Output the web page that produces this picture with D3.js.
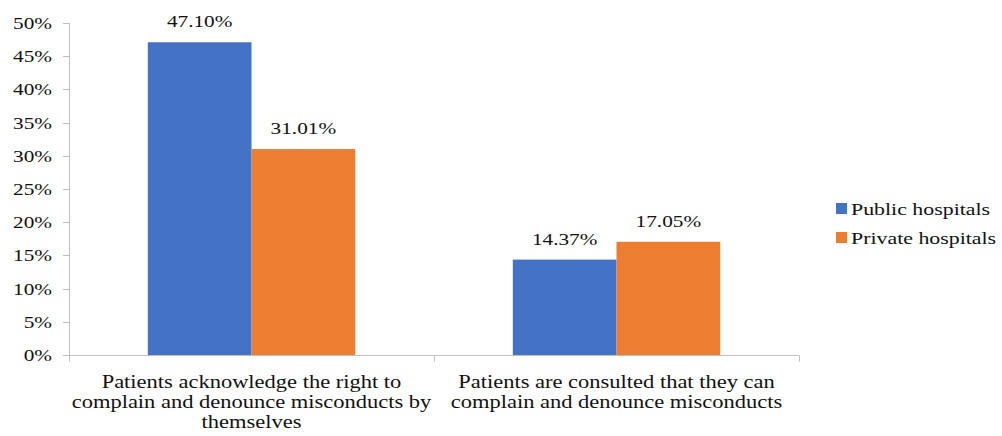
<!DOCTYPE html>
<html>
<head>
<meta charset="utf-8">
<script src="https://cdn.jsdelivr.net/npm/d3@7"></script>
<style>
  html, body { margin: 0; padding: 0; background: #fff; }
  svg { display: block; }
  text { font-family: 'Liberation Serif'; fill: #111; }
</style>
</head>
<body>
<svg id="chart" width="1002" height="436"></svg>
<script>
// Chart data
const categories = [
  ["Patients acknowledge the right to", "complain and denounce misconducts by", "themselves"],
  ["Patients are consulted that they can", "complain and denounce misconducts"]
];
const seriesNames = ["Public hospitals", "Private hospitals"];
const publicValues = [47.10, 14.37];
const privateValues = [31.01, 17.05];
const yTicks = [0, 5, 10, 15, 20, 25, 30, 35, 40, 45, 50];
const colors = ["#4472C4", "#ED7D31"];

const svg = d3.select("#chart");
const margin = { left: 69, right: 203, top: 23, bottom: 81 };
const W = 1002, H = 436;
const sx = 1.25; // horizontal stretch applied to all text

const x0 = d3.scaleBand().domain(d3.range(categories.length))
  .range([margin.left, W - margin.right]).paddingInner(0).paddingOuter(0);
const x1 = d3.scaleBand().domain([0, 1]).range([0, x0.bandwidth()])
  .paddingOuter(0.76).paddingInner(0);
const y = d3.scaleLinear().domain([0, 50]).range([H - margin.bottom, margin.top]);

function stretchedText(g, x, yy, str, size, anchor) {
  return g.append("text")
    .attr("transform", `translate(${x},${yy}) scale(${sx},1)`)
    .attr("text-anchor", anchor)
    .attr("font-size", size)
    .text(str);
}

const axisColor = "#BFBFBF";

// Y axis
const yAxis = svg.append("g");
yAxis.append("line").attr("x1", margin.left + 0.5).attr("x2", margin.left + 0.5)
  .attr("y1", y(50)).attr("y2", y(0)).attr("stroke", axisColor);
yTicks.forEach(t => {
  const yy = Math.round(y(t)) + 0.5;
  yAxis.append("line").attr("x1", margin.left - 6).attr("x2", margin.left)
    .attr("y1", yy).attr("y2", yy).attr("stroke", axisColor);
  stretchedText(yAxis, margin.left - 17, y(t) + 6, t + "%", 17, "end");
});

// Bars
const series = [publicValues, privateValues];
const groups = svg.append("g");
categories.forEach((c, i) => {
  series.forEach((vals, s) => {
    const bx = x0(i) + x1(s);
    groups.append("rect")
      .attr("x", bx).attr("y", y(vals[i]))
      .attr("width", x1.bandwidth()).attr("height", y(0) - y(vals[i]))
      .attr("fill", colors[s]);
    stretchedText(groups, bx + x1.bandwidth() / 2, y(vals[i]) - 15,
      vals[i].toFixed(2) + "%", 17, "middle");
  });
});

// X axis
const xAxis = svg.append("g");
const y0 = Math.round(y(0)) + 0.5;
xAxis.append("line").attr("x1", margin.left).attr("x2", W - margin.right)
  .attr("y1", y0).attr("y2", y0).attr("stroke", axisColor);
d3.range(categories.length + 1).forEach(i => {
  const xx = Math.round(i < categories.length ? x0(i) : x0(i - 1) + x0.bandwidth()) + 0.5;
  xAxis.append("line").attr("x1", xx).attr("x2", xx)
    .attr("y1", y0).attr("y2", y0 + 6).attr("stroke", axisColor);
});
categories.forEach((lines, i) => {
  const cx = x0(i) + x0.bandwidth() / 2;
  lines.forEach((ln, k) => {
    stretchedText(xAxis, cx, 388 + k * 20, ln, 18, "middle");
  });
});

// Legend
const legend = svg.append("g");
seriesNames.forEach((n, s) => {
  const ly = 203 + s * 29;
  legend.append("rect").attr("x", 836).attr("y", ly).attr("width", 11).attr("height", 11)
    .attr("fill", colors[s]);
  stretchedText(legend, 851, ly + 12, n, 17.5, "start");
});
</script>
</body>
</html>
